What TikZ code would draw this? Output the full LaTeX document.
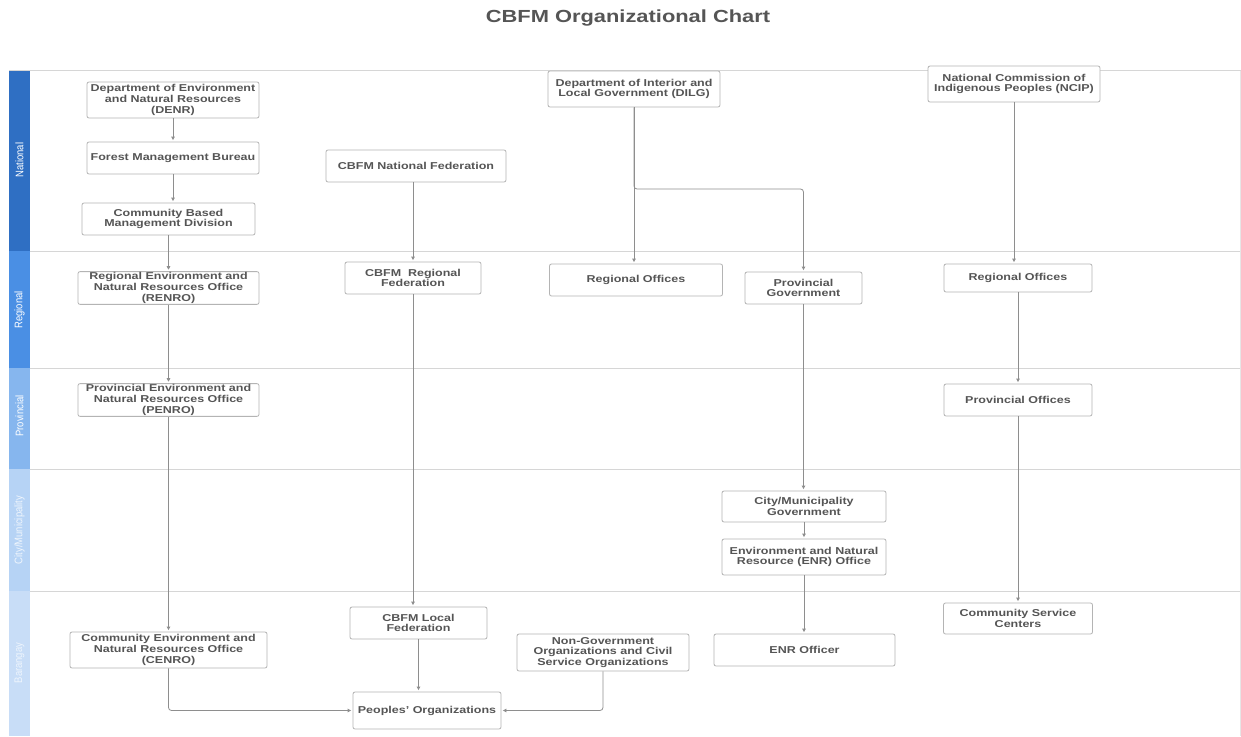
\documentclass[tikz,border=0pt]{standalone}
\usepackage{fontspec}
\setmainfont{Liberation Sans}[FakeStretch=1.25]
\newfontfamily\lanefont{Liberation Sans}[FakeStretch=0.86]
\usetikzlibrary{arrows.meta}
\definecolor{txtc}{HTML}{555555}
\definecolor{boxc}{HTML}{B4B4B4}
\definecolor{linkc}{HTML}{8E8E8E}
\definecolor{lanec}{HTML}{D6D6D6}
\definecolor{natc}{HTML}{2F6FC3}
\definecolor{regc}{HTML}{4A8FE4}
\definecolor{proc}{HTML}{86B6EE}
\definecolor{citc}{HTML}{B6D3F5}
\definecolor{barc}{HTML}{C8DDF7}
\tikzset{
  orgbox/.style={draw=boxc, line width=0.8pt, fill=white, rounded corners=2pt,
    align=center, inner sep=1pt, text=txtc,
    font=\bfseries\fontsize{10}{10.7}\selectfont},
  link/.style={draw=linkc, line width=0.8pt, rounded corners=3pt,
    -{Triangle[length=3.5pt,width=3.5pt]}, shorten >=1.5pt},
  laneline/.style={draw=lanec, line width=0.8pt},
  lanelabel/.style={rotate=90, text=white, font=\lanefont\fontsize{11}{11}\selectfont}
}
\begin{document}
\begin{tikzpicture}[x=1pt,y=-1pt]
\useasboundingbox (0,0) rectangle (1241,736);
\fill[white] (0,0) rectangle (1241,736);

% title
\node[text=txtc, font=\bfseries\fontsize{17.5}{18}\selectfont] (title) at (628,18) {CBFM Organizational Chart};

% swimlane bars
\fill[natc] (9,71) rectangle (30,251);
\fill[regc] (9,251) rectangle (30,368);
\fill[proc] (9,368) rectangle (30,469);
\fill[citc] (9,469) rectangle (30,591);
\fill[barc] (9,591) rectangle (30,736);
\node[lanelabel] (lnat) at (19.5,160) {National};
\node[lanelabel] (lreg) at (19.5,310) {Regional};
\node[lanelabel] (lpro) at (19.5,416) {Provincial};
\node[lanelabel, text=white!80!citc] (lcit) at (19.5,530) {City/Municipality};
\node[lanelabel, text=white!70!barc] (lbar) at (19.5,663) {Barangay};

% lane lines
\draw[laneline] (9,70.5) -- (1241,70.5);
\draw[laneline] (30,251) -- (1241,251);
\draw[laneline] (30,368) -- (1241,368);
\draw[laneline] (30,469) -- (1241,469);
\draw[laneline] (30,591) -- (1241,591);
\draw[draw=lanec!60, line width=0.6pt] (1240.5,70.5) -- (1240.5,736);

% DENR column
\node[orgbox, minimum width=172pt, minimum height=36pt] (denr) at (173,100) {Department of Environment\\and Natural Resources\\(DENR)};
\node[orgbox, minimum width=172pt, minimum height=32pt] (fmb) at (173,158) {Forest Management Bureau};
\node[orgbox, minimum width=173pt, minimum height=32pt] (cbmd) at (168.5,219) {Community Based\\Management Division};
\node[orgbox, minimum width=181pt, minimum height=32pt] (renro) at (168.5,288) {Regional Environment and\\Natural Resources Office\\(RENRO)};
\node[orgbox, minimum width=181pt, minimum height=32pt] (penro) at (168.5,400) {Provincial Environment and\\Natural Resources Office\\(PENRO)};
\node[orgbox, minimum width=197pt, minimum height=36pt] (cenro) at (168.5,650) {Community Environment and\\Natural Resources Office\\(CENRO)};

% Federation column
\node[orgbox, minimum width=180pt, minimum height=32pt] (natfed) at (416,166) {CBFM National Federation};
\node[orgbox, minimum width=136pt, minimum height=32pt] (regfed) at (413,278) {CBFM~ Regional\\Federation};
\node[orgbox, minimum width=137pt, minimum height=32pt] (locfed) at (418.5,623) {CBFM Local\\Federation};
\node[orgbox, minimum width=148pt, minimum height=37pt] (po) at (427,710.5) {Peoples' Organizations};
\node[orgbox, minimum width=172pt, minimum height=37pt] (ngo) at (603,652.5) {Non-Government\\Organizations and Civil\\Service Organizations};

% DILG column
\node[orgbox, minimum width=172pt, minimum height=36pt] (dilg) at (634,89) {Department of Interior and\\Local Government (DILG)};
\node[orgbox, minimum width=173pt, minimum height=32pt] (dilgreg) at (636,280) {Regional Offices};
\node[orgbox, minimum width=117pt, minimum height=32pt] (provgov) at (803.5,288) {Provincial\\Government};
\node[orgbox, minimum width=164pt, minimum height=31pt] (citygov) at (804,506.5) {City/Municipality\\Government};
\node[orgbox, minimum width=164pt, minimum height=36pt] (enroff) at (804,557) {Environment and Natural\\Resource (ENR) Office};
\node[orgbox, minimum width=181pt, minimum height=32pt] (enrofr) at (804.5,650) {ENR Officer};

% NCIP column
\node[orgbox, minimum width=172pt, minimum height=36pt] (ncip) at (1014,84) {National Commission of\\Indigenous Peoples (NCIP)};
\node[orgbox, minimum width=148pt, minimum height=28pt] (ncipreg) at (1018,278) {Regional Offices};
\node[orgbox, minimum width=148pt, minimum height=32pt] (provoff) at (1018,400) {Provincial Offices};
\node[orgbox, minimum width=149pt, minimum height=31pt] (csc) at (1018,618.5) {Community Service\\Centers};

% connectors
\draw[link] (denr.south) -- (fmb.north);
\draw[link] (fmb.south) -- (fmb.south |- cbmd.north);
\draw[link] (cbmd.south) -- (renro.north);
\draw[link] (renro.south) -- (penro.north);
\draw[link] (penro.south) -- (cenro.north);
\draw[link] (cenro.south) |- (po.west);

\draw[link] (regfed.north |- natfed.south) -- (regfed.north);
\draw[link] (regfed.south) -- (regfed.south |- locfed.north);
\draw[link] (locfed.south) -- (locfed.south |- po.north);
\draw[link] (ngo.south) |- (po.east);

\draw[link] (dilg.south) -- (dilg.south |- dilgreg.north);
\draw[link] (dilg.south) -- (634,189) -- (provgov.north |- 0,189) -- (provgov.north);
\draw[link] (provgov.south) -- (provgov.south |- citygov.north);
\draw[link] (citygov.south) -- (enroff.north);
\draw[link] (enroff.south) -- (enroff.south |- enrofr.north);

\draw[link] (ncip.south) -- (ncip.south |- ncipreg.north);
\draw[link] (ncipreg.south) -- (provoff.north);
\draw[link] (provoff.south) -- (csc.north);
\end{tikzpicture}
\end{document}
